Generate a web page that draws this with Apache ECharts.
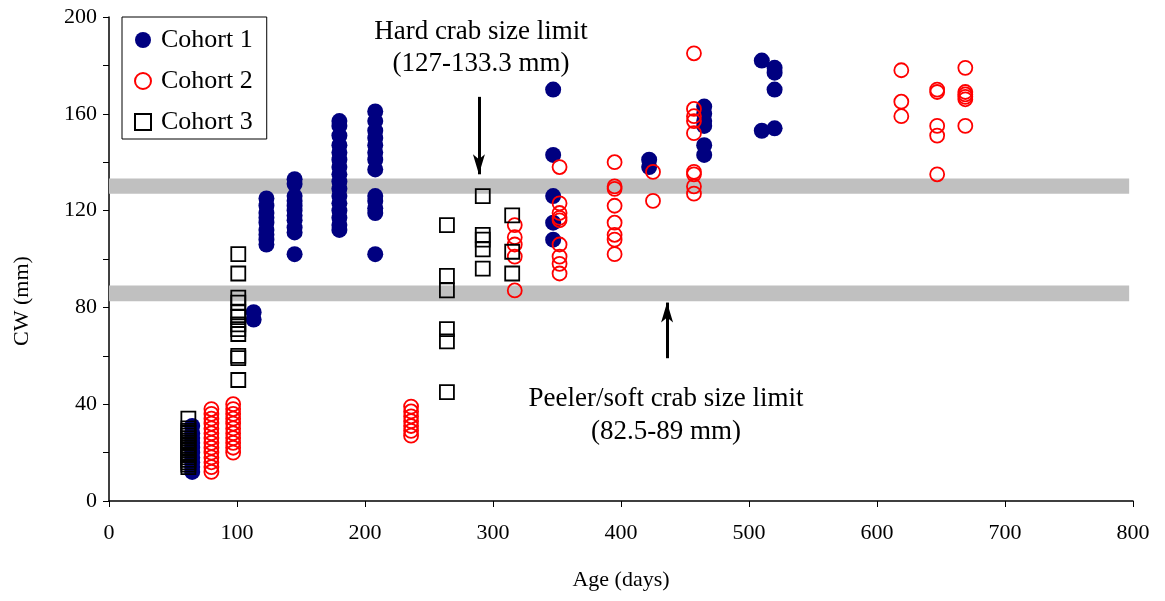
<!DOCTYPE html>
<html>
<head>
<meta charset="utf-8">
<script src="https://cdn.jsdelivr.net/npm/echarts@6/dist/echarts.min.js"></script>
<style>html,body{margin:0;padding:0;background:#fff}#c{width:1165px;height:601px}</style>
</head>
<body>
<div id="c"></div>
<script>
// Tick values
var xTicks = [0, 100, 200, 300, 400, 500, 600, 700, 800];
var yTicks = [0, 40, 80, 120, 160, 200];

// Cohort 1: [age (days), CW (mm)]
var cohort1 = [
  [65,12],[65,14],[65,16],[65,18],[65,20],[65,22],[65,24],[65,26],[65,28],[65,31],
  [113,78],[113,75],
  [123,125],[123,122],[123,119],[123,117],[123,115],[123,112],[123,110],[123,108],[123,106],
  [145,133],[145,131],[145,126],[145,124],[145,122],[145,120],[145,118],[145,116],[145,113],[145,111],[145,102],
  [180,157],[180,155],[180,151],[180,147],[180,144],[180,141],[180,138],[180,135],[180,132],[180,129],[180,126],[180,123],[180,120],[180,117],[180,114],[180,112],
  [208,161],[208,157],[208,153],[208,150],[208,147],[208,144],[208,141],[208,137],[208,126],[208,124],[208,121],[208,119],[208,102],
  [347,170],[347,143],[347,126],[347,115],[347,108],
  [422,141],[422,138],
  [465,163],[465,160],[465,157],[465,155],[465,147],[465,143],
  [510,182],[510,153],
  [520,179],[520,177],[520,170],[520,154]
];

// Cohort 2
var cohort2 = [
  [80,12],[80,14],[80,16],[80,18],[80,20],[80,22],[80,24],[80,26],[80,28],[80,30],[80,32],[80,34],[80,36],[80,38],
  [97,20],[97,22],[97,24],[97,26],[97,28],[97,30],[97,32],[97,34],[97,36],[97,38],[97,40],
  [236,39],[236,37],[236,35],[236,33],[236,31],[236,29],[236,27],
  [317,114],[317,109],[317,106],[317,101],[317,87],
  [352,138],[352,123],[352,119],[352,117],[352,116],[352,106],[352,101],[352,98],[352,94],
  [395,140],[395,130],[395,129],[395,122],[395,115],[395,110],[395,108],[395,102],
  [425,136],[425,124],
  [457,185],[457,162],[457,159],[457,157],[457,152],[457,136],[457,135],[457,130],[457,127],
  [619,178],[619,165],[619,159],
  [647,170],[647,169],[647,155],[647,151],[647,135],
  [669,179],[669,169],[669,168],[669,167],[669,166],[669,155]
];

// Cohort 3
var cohort3 = [
  [62,14],[62,15],[62,16],[62,17],[62,18],[62,19],[62,20],[62,21],[62,22],[62,23],[62,24],[62,25],[62,26],[62,27],[62,28],[62,29],[62,30],[62,34],
  [101,102],[101,94],[101,84],[101,82],[101,78],[101,76],[101,73],[101,71],[101,69],[101,60],[101,59],[101,50],
  [264,114],[264,93],[264,87],[264,71],[264,66],[264,45],
  [292,126],[292,110],[292,108],[292,104],[292,96],
  [315,118],[315,103],[315,94]
];

// Size-limit bands (mm)
var hardBand = [127, 133.3];
var peelerBand = [82.5, 89];
// Arrow annotations [day, from, to]
var hardArrow = [289, 167, 135];
var peelerArrow = [436, 59, 82];

var FONT = 'Liberation Serif';
var chart = echarts.init(document.getElementById('c'));
chart.setOption({
  animation: false,
  grid: {left: 109, right: 32, top: 17, bottom: 100},
  legend: {
    orient: 'vertical', left: 122, top: 17,
    padding: [10, 14, 4, 12], itemGap: 15,
    itemWidth: 16, itemHeight: 16,
    borderColor: '#000', borderWidth: 1,
    textStyle: {fontFamily: FONT, fontSize: 26, lineHeight: 26, color: '#000', padding: [0, 0, 0, 5]},
    data: ['Cohort 1', 'Cohort 2', 'Cohort 3']
  },
  xAxis: {
    type: 'value', min: 0, max: 800, interval: 100,
    name: 'Age (days)', nameLocation: 'middle', nameGap: 68,
    nameTextStyle: {fontFamily: FONT, fontSize: 22, color: '#000'},
    axisLine: {lineStyle: {color: '#000', width: 1.5}},
    axisTick: {lineStyle: {color: '#000'}, length: 6},
    axisLabel: {fontFamily: FONT, fontSize: 22, color: '#000', margin: 21},
    splitLine: {show: false}
  },
  yAxis: {
    type: 'value', min: 0, max: 200, interval: 20,
    axisLine: {show: true, lineStyle: {color: '#000', width: 1.5}},
    axisTick: {show: true, lineStyle: {color: '#000'}, length: 6},
    axisLabel: {fontFamily: FONT, fontSize: 22, color: '#000', margin: 12,
      formatter: function (v) { return yTicks.indexOf(v) >= 0 ? String(v) : ''; }},
    splitLine: {show: false}
  },
  series: [
    {
      type: 'scatter', name: 'bands', data: [], z: 1, silent: true,
      markArea: {
        silent: true,
        itemStyle: {color: '#c0c0c0'},
        data: [
          [{coord: [0, hardBand[0]]}, {coord: [797, hardBand[1]]}],
          [{coord: [0, peelerBand[0]]}, {coord: [797, peelerBand[1]]}]
        ]
      },
      markLine: {
        silent: true, symbol: ['none', 'arrow'], symbolSize: [9, 20],
        lineStyle: {color: '#000', width: 3, type: 'solid'},
        label: {show: false},
        data: [
          [{coord: [hardArrow[0], hardArrow[1]]}, {coord: [hardArrow[0], hardArrow[2]]}],
          [{coord: [peelerArrow[0], peelerArrow[1]]}, {coord: [peelerArrow[0], peelerArrow[2]]}]
        ]
      }
    },
    {
      type: 'scatter', name: 'Cohort 1', data: cohort1, z: 3,
      symbol: 'circle', symbolSize: 16,
      itemStyle: {color: '#000080', opacity: 1}
    },
    {
      type: 'scatter', name: 'Cohort 2', data: cohort2, z: 4,
      symbol: 'circle', symbolSize: 14,
      itemStyle: {color: 'rgba(255,255,255,0)', borderColor: '#ff0000', borderWidth: 1.8, opacity: 1}
    },
    {
      type: 'scatter', name: 'Cohort 3', data: cohort3, z: 5,
      symbol: 'rect', symbolSize: 14,
      itemStyle: {color: 'rgba(255,255,255,0)', borderColor: '#000', borderWidth: 1.8, opacity: 1}
    }
  ],
  graphic: [
    {type: 'text', style: {text: 'CW (mm)', x: 0, y: 0, textAlign: 'center', textVerticalAlign: 'middle', fontFamily: FONT, fontSize: 22, fill: '#000'}, x: 22, y: 301, rotation: Math.PI / 2},
    {type: 'text', style: {text: 'Hard crab size limit\n(127-133.3 mm)', x: 481, y: 16, textAlign: 'center', fontFamily: FONT, fontSize: 27, lineHeight: 32, fill: '#000'}},
    {type: 'text', style: {text: 'Peeler/soft crab size limit\n(82.5-89 mm)', x: 666, y: 382, textAlign: 'center', fontFamily: FONT, fontSize: 27, lineHeight: 33, fill: '#000'}}
  ]
});
</script>
</body>
</html>
